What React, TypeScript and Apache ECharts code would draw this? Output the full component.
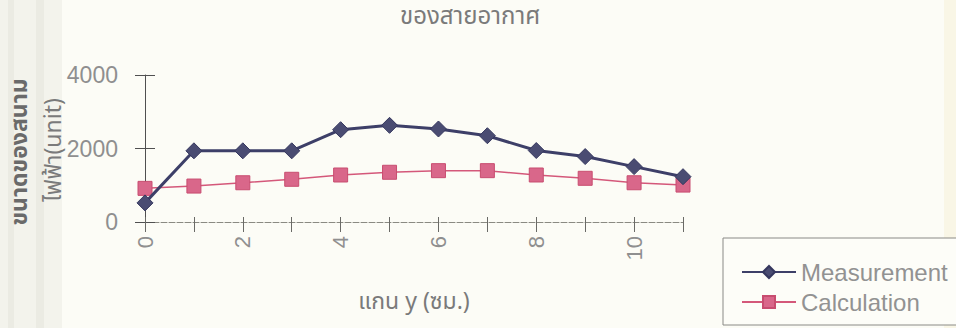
import React, { useEffect, useRef } from "react";
import * as echarts from "echarts";

const categories = ["0", "1", "2", "3", "4", "5", "6", "7", "8", "9", "10", "11"];
const measurement = [520, 1937, 1937, 1937, 2512, 2630, 2531, 2348, 1945, 1781, 1507, 1233];
const calculation = [915, 978, 1068, 1162, 1279, 1353, 1397, 1397, 1279, 1189, 1068, 1005];
const seriesNames = ["Measurement", "Calculation"];
const titleText = "ของสายอากาศ";
const xName = "แกน y (ซม.)";
const yName1 = "ขนาดของสนาม";
const yName2 = "ไฟฟ้า(unit)";

const latin = "'Liberation Sans', Arial, sans-serif";
const thai = "'Noto Sans Thai', 'Noto Sans Thai Looped', Loma, Garuda, 'Tlwg Typo', 'Liberation Sans', sans-serif";

export default function App() {
  const ref = useRef<HTMLDivElement>(null);
  useEffect(() => {
    document.body.style.margin = "0";
    const chart = echarts.init(ref.current!, undefined, { renderer: "svg" });
    const yBase = { type: "value", min: 0, max: 4000, interval: 2000, position: "left", splitLine: { show: false } };
    const xBase = { type: "category", data: categories, boundaryGap: false, position: "bottom", splitLine: { show: false } };
    chart.setOption({
      animation: false,
      backgroundColor: "#fcfcf6",
      title: {
        text: titleText,
        left: 400,
        top: 5,
        padding: 0,
        textStyle: { fontFamily: thai, fontSize: 24, fontWeight: "normal", color: "#7a7a7a" },
      },
      grid: { left: 145, right: 273, top: 75, bottom: 106, containLabel: false },
      xAxis: [
        {
          ...xBase,
          axisLine: { lineStyle: { color: "#8a8a82", width: 1, type: [6, 2] } },
          axisTick: { show: true, interval: 0, length: 10, lineStyle: { color: "#6a6a66" } },
          axisLabel: { interval: 1, rotate: 90, margin: 14, fontSize: 22, color: "#8f8f8f", fontFamily: latin },
          name: xName,
          nameLocation: "middle",
          nameGap: 68,
          nameTextStyle: { fontFamily: thai, fontSize: 23, color: "#7a7a7a" },
        },
        {
          ...xBase,
          axisLine: { show: false },
          axisTick: { show: true, inside: true, interval: 0, length: 5, lineStyle: { color: "#6a6a66" } },
          axisLabel: { show: false },
        },
      ],
      yAxis: [
        {
          ...yBase,
          axisLine: { show: true, lineStyle: { color: "#505050", width: 1 } },
          axisTick: { show: true, length: 10, lineStyle: { color: "#505050" } },
          axisLabel: {
            margin: 27,
            fontSize: 23,
            color: "#8f8f8f",
            fontFamily: latin,
            formatter: (v: number) => String(v),
          },
        },
        {
          ...yBase,
          axisLine: { show: false },
          axisTick: { show: true, inside: true, length: 10, lineStyle: { color: "#505050" } },
          axisLabel: { show: false },
        },
      ],
      legend: {
        orient: "vertical",
        left: 736,
        top: 254,
        itemWidth: 54,
        itemHeight: 15,
        itemGap: 4,
        textStyle: { fontFamily: latin, fontSize: 24, color: "#929292", lineHeight: 26 },
        data: seriesNames,
      },
      graphic: [
        { type: "rect", left: 0, top: 0, shape: { width: 62, height: 328 }, style: { fill: "#f3f3ec" }, z: -10 },
        { type: "rect", left: 8, top: 0, shape: { width: 6, height: 328 }, style: { fill: "#ebebe3" }, z: -10 },
        { type: "rect", left: 36, top: 0, shape: { width: 8, height: 328 }, style: { fill: "#ebebe3" }, z: -10 },
        { type: "rect", left: 944, top: 0, shape: { width: 12, height: 328 }, style: { fill: "#f9f6e6" }, z: -10 },
        {
          type: "rect",
          shape: { x: 723, y: 238, width: 260, height: 87 },
          style: { fill: "#fdfdf8", stroke: "#8a8a86", lineWidth: 1 },
          z: -5,
        },
        {
          type: "text",
          x: 20,
          y: 152,
          rotation: Math.PI / 2,
          style: {
            text: yName1,
            fontFamily: thai,
            fontSize: 23,
            fontWeight: "bold",
            fill: "#6a6a6a",
            align: "center",
            verticalAlign: "middle",
          },
        },
        {
          type: "text",
          x: 54,
          y: 150,
          rotation: Math.PI / 2,
          style: {
            text: yName2,
            fontFamily: thai,
            fontSize: 23,
            fill: "#7a7a7a",
            align: "center",
            verticalAlign: "middle",
          },
        },
      ],
      series: [
        {
          name: seriesNames[0],
          type: "line",
          xAxisIndex: 0,
          yAxisIndex: 0,
          data: measurement,
          symbol: "diamond",
          symbolSize: 16,
          lineStyle: { color: "#3d3f68", width: 3 },
          itemStyle: { color: "#4a4c72", borderColor: "#35375e", borderWidth: 1 },
          z: 3,
        },
        {
          name: seriesNames[1],
          type: "line",
          xAxisIndex: 0,
          yAxisIndex: 0,
          data: calculation,
          symbol: "rect",
          symbolSize: 14,
          lineStyle: { color: "#d4587a", width: 1.5 },
          itemStyle: { color: "#d9678a", borderColor: "#c84d70", borderWidth: 1 },
          z: 2,
        },
      ],
    });
    return () => chart.dispose();
  }, []);
  return <div ref={ref} style={{ width: 956, height: 328 }} />;
}
